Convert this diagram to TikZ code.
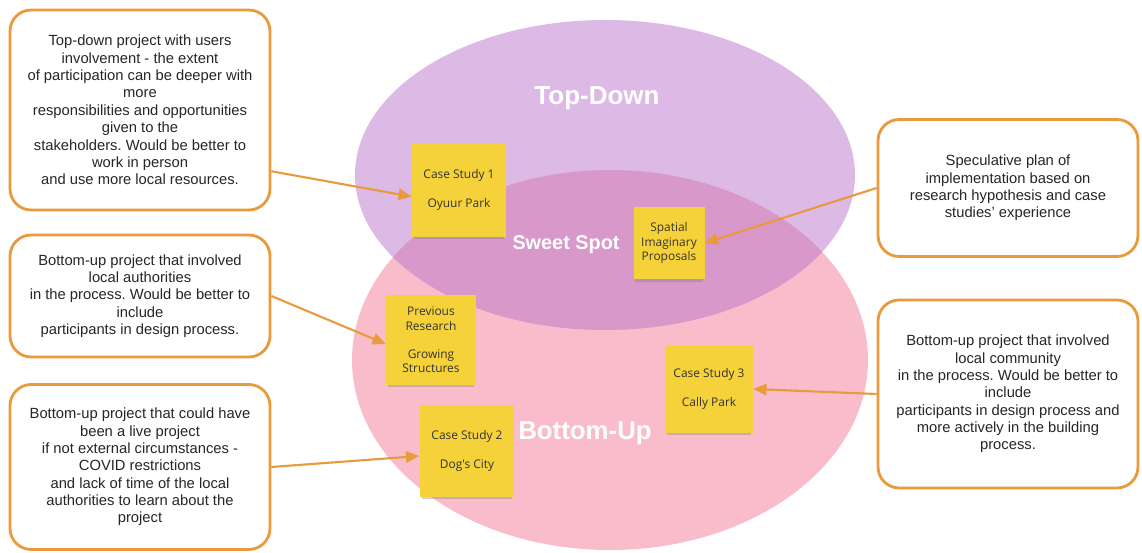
\documentclass[tikz,border=0pt]{standalone}
\usepackage{fontspec}
\setmainfont{Liberation Sans}
\newfontfamily\notefont{Open Sans}
\usetikzlibrary{shadows,arrows.meta}
\definecolor{lilac}{HTML}{DDB9E5}
\definecolor{blush}{HTML}{F9BCCB}
\definecolor{mauve}{HTML}{D998CA}
\definecolor{amber}{HTML}{E89A3C}
\definecolor{sticky}{HTML}{F6D23A}
\frenchspacing

\begin{document}
\begin{tikzpicture}[x=0.02cm,y=-0.02cm,
                  comment/.style={draw=amber, line width=1.6pt, rounded corners=12pt,
                              fill=white, align=center, text=black!85, minimum width=5.2cm,
                              inner sep=2pt, font=\fontsize{8.4}{9.9}\selectfont},
                  note/.style={fill=sticky, align=center, text=black!80, inner sep=1pt,
                              font=\notefont\fontsize{6.8}{8.2}\selectfont,
                              drop shadow={shadow xshift=0pt, shadow yshift=-2.5pt, shadow scale=0.95, opacity=0.35}},
                  link/.style={draw=amber, line width=1.2pt, -{Triangle[length=7.5pt,width=6.5pt]}},
                  title/.style={text=white, font=\bfseries}]
            \useasboundingbox (0,0) rectangle (1142,553);
            % the two circles and their overlap
            \fill[blush] (610,360) ellipse [x radius=258, y radius=190];
            \fill[lilac] (605,175) ellipse [x radius=250, y radius=155];
            \begin{scope}
                  \clip (605,175) ellipse [x radius=250, y radius=155];
                  \fill[mauve] (610,360) ellipse [x radius=258, y radius=190];
            \end{scope}
            \node[title, font=\bfseries\fontsize{14.8}{16}\selectfont] (topdown) at (597,98) {Top-Down};
            \node[title, font=\bfseries\fontsize{11.3}{13}\selectfont] (sweet) at (566,245) {Sweet Spot};
            \node[title, font=\bfseries\fontsize{14.7}{16}\selectfont] (bottomup) at (585,433) {Bottom-Up};
            % sticky notes
            \node[note, minimum width=1.88cm, minimum height=1.9cm] (cs1) at (459,190)
                  {Case Study 1\\[8pt]Oyuur Park};
            \node[note, minimum width=1.42cm, minimum height=1.46cm] (sip) at (669,243)
                  {Spatial\\Imaginary\\Proposals};
            \node[note, minimum width=1.8cm, minimum height=1.8cm] (prev) at (431,340)
                  {Previous\\Research\\[8pt]Growing\\Structures};
            \node[note, minimum width=1.9cm, minimum height=1.84cm] (cs2) at (467,451)
                  {Case Study 2\\[8pt]Dog's City};
            \node[note, minimum width=1.76cm, minimum height=1.76cm] (cs3) at (709,389)
                  {Case Study 3\\[8pt]Cally Park};
            % comments
            \node[comment, minimum height=4cm] (boxA) at (140,110)
                  {Top-down project with users\\involvement - the extent\\of participation can be deeper with\\more\\responsibilities and opportunities\\given to the\\stakeholders. Would be better to\\work in person\\and use more local resources.};
            \node[comment, minimum height=2.44cm] (boxB) at (140,296)
                  {Bottom-up project that involved\\local authorities\\in the process. Would be better to\\include\\participants in design process.};
            \node[comment, minimum height=3.3cm] (boxC) at (140,467)
                  {Bottom-up project that could have\\been a live project\\if not external circumstances -\\COVID restrictions\\and lack of time of the local\\authorities to learn about the\\project};
            \node[comment, minimum height=2.74cm] (boxD) at (1008,188)
                  {Speculative plan of\\implementation based on\\research hypothesis and case\\studies' experience};
            \node[comment, minimum height=3.76cm] (boxE) at (1008,394)
                  {Bottom-up project that involved\\local community\\in the process. Would be better to\\include\\participants in design process and\\more actively in the building\\process.};
            % arrows
            \draw[link] (boxA.-25) -- (cs1.188);
            \draw[link] (boxB.east) -- (prev.185);
            \draw[link] (boxC.east) -- (cs2.186);
            \draw[link] (boxD.west) -- (sip.east);
            \draw[link] (boxE.west) -- (cs3.east);
      \end{tikzpicture}
\end{document}
